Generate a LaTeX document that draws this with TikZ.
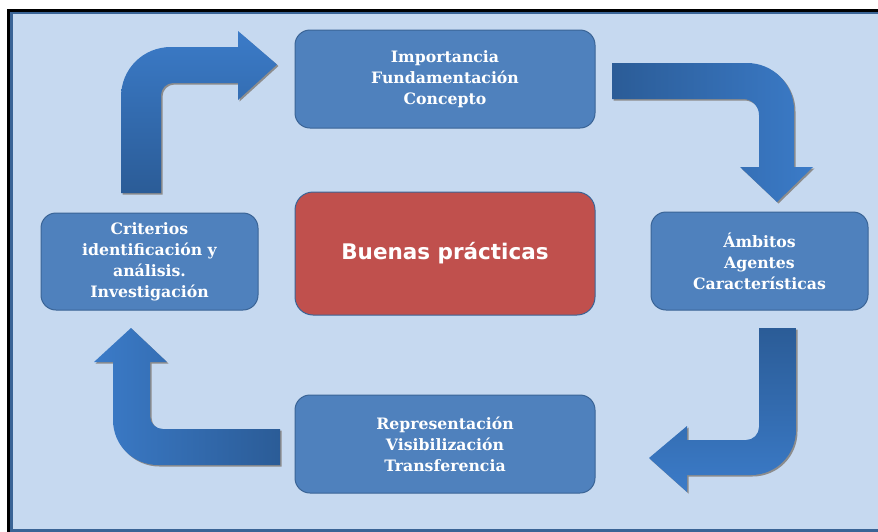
\documentclass[tikz,border=0pt]{standalone}
\usepackage{fontspec}
\newfontfamily\boxfont{DejaVu Serif}
\newfontfamily\titlefont{DejaVu Sans}
\definecolor{bgblue}{HTML}{C6D9F0}
\definecolor{frameblue}{HTML}{3A6496}
\definecolor{boxblue}{HTML}{4F81BD}
\definecolor{boxedge}{HTML}{3A6496}
\definecolor{boxred}{HTML}{C0504D}
\definecolor{arrlight}{HTML}{3B7BC8}
\definecolor{arrdark}{HTML}{2B5C97}
\definecolor{shadowgray}{HTML}{8C8C8C}
\tikzset{
  bluebox/.style={draw=boxedge, line width=1pt, fill=boxblue, rounded corners=15pt,
    text=white, align=center, inner sep=0pt,
    font=\boxfont\bfseries\fontsize{15.7}{21}\selectfont},
  redbox/.style={draw=boxedge, line width=1pt, fill=boxred, rounded corners=18pt,
    text=white, align=center, inner sep=0pt,
    font=\titlefont\bfseries\fontsize{21.5}{24}\selectfont},
  arrshadow/.style={fill=shadowgray, draw=none},
}
\begin{document}
\begin{tikzpicture}[x=1pt,y=-1pt]
\useasboundingbox (0,0) rectangle (878,531);
\fill[white] (0,0) rectangle (882,535);
\fill[black] (7,9) rectangle (882,535);
\fill[frameblue] (10,12) rectangle (882,535);
\fill[bgblue] (12.5,14) rectangle (882,528.5);

% boxes
\node[bluebox, minimum width=300pt, minimum height=98pt] (top) at (445,79)
  {Importancia\\Fundamentación\\Concepto};
\node[redbox, minimum width=300pt, minimum height=123pt] (center) at (445,253.5)
  {Buenas prácticas};
\node[bluebox, minimum width=217pt, minimum height=98pt] (right) at (759.5,261)
  {Ámbitos\\Agentes\\Características};
\node[bluebox, minimum width=217pt, minimum height=97pt] (left) at (149.5,261.5)
  {Criterios\\identificación y\\análisis.\\Investigación};
\node[bluebox, minimum width=300pt, minimum height=98pt] (bottom) at (445,444)
  {Representación\\Visibilización\\Transferencia};

% top-left arrow (left -> top)
\def\arrTL{(121,193) -- (121,97) .. controls (121,69) and (143,47) .. (171,47) -- (238,47) -- (238,31) -- (277,64.5) -- (238,100) -- (238,83) -- (173,83) .. controls (166.4,83) and (161,88.4) .. (161,95) -- (161,193) -- cycle}
\fill[arrshadow, shift={(1.5,1.5)}] \arrTL;
\shade[top color=arrlight, bottom color=arrdark] \arrTL;

% top-right arrow (top -> right)
\def\arrTR{(612,63) -- (747,63) .. controls (773,63) and (794,84) .. (794,110) -- (794,167) -- (813,167) -- (777,202) -- (740,167) -- (759,167) -- (759,115) .. controls (759,106.2) and (751.8,99) .. (743,99) -- (612,99) -- cycle}
\fill[arrshadow, shift={(1.5,1.5)}] \arrTR;
\shade[left color=arrdark, right color=arrlight] \arrTR;

% bottom-right arrow (right -> bottom)
\def\arrBR{(759,328) -- (796,328) -- (796,430) .. controls (796,455) and (776,475) .. (751,475) -- (687,475) -- (687,492) -- (649,458) -- (687,426) -- (687,440) -- (746,440) .. controls (753.2,440) and (759,434.2) .. (759,427) -- cycle}
\fill[arrshadow, shift={(1.5,1.5)}] \arrBR;
\shade[top color=arrdark, bottom color=arrlight] \arrBR;

% bottom-left arrow (bottom -> left)
\def\arrBL{(280,429) -- (163,429) .. controls (155.8,429) and (150,423.2) .. (150,416) -- (150,362) -- (167,362) -- (131,328) -- (94,362) -- (113,362) -- (113,420) .. controls (113,445) and (133,465) .. (158,465) -- (280,465) -- cycle}
\fill[arrshadow, shift={(1.5,1.5)}] \arrBL;
\shade[left color=arrlight, right color=arrdark] \arrBL;
\end{tikzpicture}
\end{document}
